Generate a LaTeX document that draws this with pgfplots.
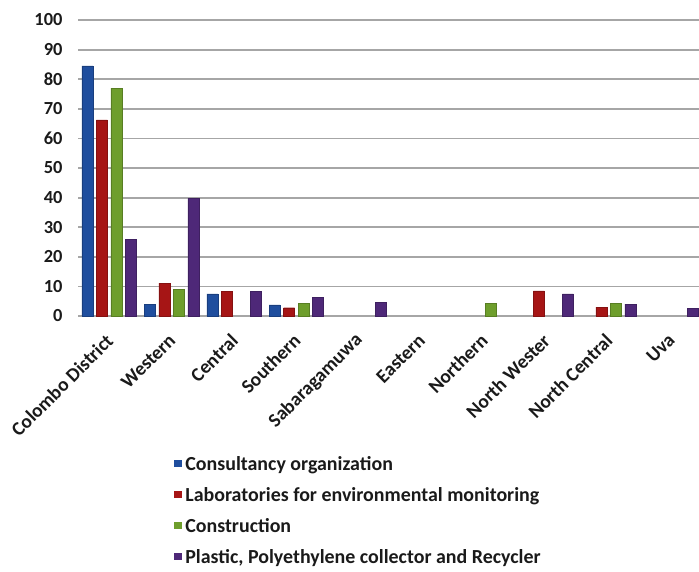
\documentclass[border=0pt]{standalone}
\usepackage{fontspec}
\setmainfont{Carlito}
\usepackage{pgfplots}
\pgfplotsset{compat=1.18}

\definecolor{cBlue}{HTML}{1F4E9E}
\definecolor{cRed}{HTML}{A61515}
\definecolor{cGreen}{HTML}{6E9E2C}
\definecolor{cPurple}{HTML}{4E2878}
\definecolor{cGrid}{HTML}{A6A6A6}
\definecolor{cText}{HTML}{1A1A1A}

\begin{document}
\begin{tikzpicture}
\begin{axis}[
  name=ax,
  scale only axis,
  width=621bp, height=296bp,
  xmin=-0.5, xmax=9.45,
  ymin=0, ymax=100,
  ybar=3.5bp,
  bar width=11bp,
  axis line style={draw=none},
  ytick={0,10,...,100},
  xtick={0,...,9},
  xticklabels={Colombo District,Western,Central,Southern,Sabaragamuwa,Eastern,Northern,North Wester,North Central,Uva},
  major tick length=0pt,
  ymajorgrids,
  grid style={cGrid, line width=1.8bp},
  /pgf/number format/assume math mode=true,
  ticklabel style={text=cText},
  yticklabel style={font=\fontsize{18.5}{21}\selectfont\bfseries, xshift=-12bp},
  xticklabel style={font=\fontsize{19.5}{22}\selectfont\bfseries,
                    xshift=3bp, yshift=-19bp, rotate=45, anchor=east},
  legend style={
    at={(96bp,-138bp)}, anchor=north west,
    draw=none, fill=none,
    font=\fontsize{20}{24}\selectfont\bfseries,
    text=cText,
    row sep=11.5bp,
    legend cell align=left,
    inner sep=0pt,
  },
  legend image code/.code={%
    \fill[#1, draw=none] (0bp,-3.5bp) rectangle (7.5bp,4bp);
    \path (9bp,0bp);},
  clip=false,
]
% Consultancy organization
\addplot[fill=cBlue, draw=cBlue!80!black] coordinates {
  (0,84.5) (1,3.9) (2,7.5) (3,3.8)};
% Laboratories for environmental monitoring
\addplot[fill=cRed, draw=cRed!80!black] coordinates {
  (0,66.3) (1,11.1) (2,8.3) (3,2.8) (7,8.5) (8,3.0)};
% Construction
\addplot[fill=cGreen, draw=cGreen!80!black] coordinates {
  (0,77.0) (1,8.9) (3,4.3) (6,4.3) (8,4.3)};
% Plastic, Polyethylene collector and Recycler
\addplot[fill=cPurple, draw=cPurple!80!black] coordinates {
  (0,26.0) (1,39.7) (2,8.3) (3,6.2) (4,4.5) (7,7.5) (8,4.0) (9,2.5)};
\legend{Consultancy organization,
        Laboratories for environmental monitoring,
        Construction,
        {Plastic, Polyethylene collector and Recycler}}
\end{axis}
\pgfresetboundingbox
\path[use as bounding box] ([xshift=-78bp,yshift=-256bp]ax.south west) rectangle ([yshift=20bp]ax.north east);
\end{tikzpicture}
\end{document}
